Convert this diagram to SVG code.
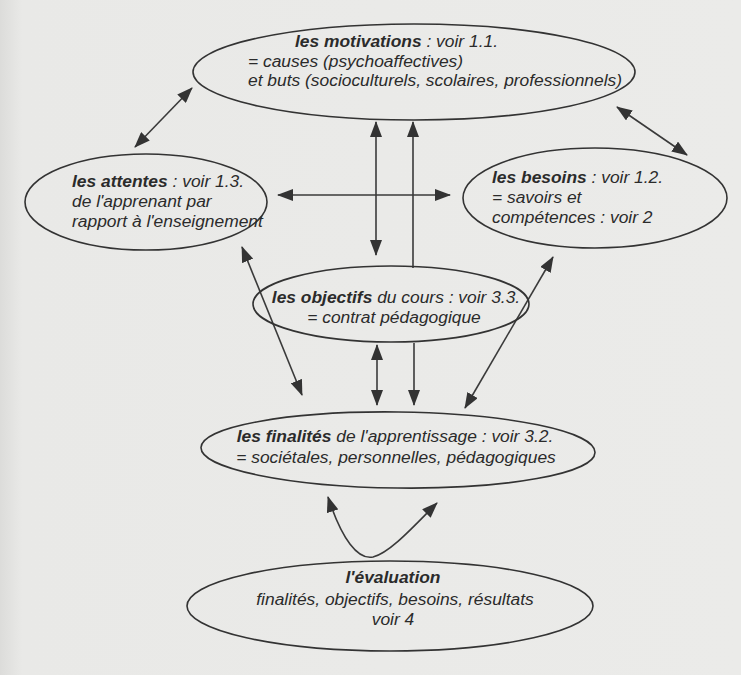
<svg xmlns="http://www.w3.org/2000/svg" width="741" height="675" viewBox="0 0 741 675">
<defs>
<marker id="ah" viewBox="0 0 16 12" refX="15" refY="6" markerWidth="16" markerHeight="12" markerUnits="userSpaceOnUse" orient="auto-start-reverse">
<path d="M0,0 L16,6 L0,12 Z" fill="#333"/>
</marker>
<linearGradient id="bg" x1="0" y1="0" x2="1" y2="0">
<stop offset="0" stop-color="#dcdcda"/>
<stop offset="0.03" stop-color="#e9e9e7"/>
<stop offset="1" stop-color="#ebebe9"/>
</linearGradient>
</defs>
<style>
.node ellipse{fill:none;stroke:#333;stroke-width:1.6}
text{font-family:"Liberation Sans",Arial,sans-serif;font-style:italic;font-size:17.4px;fill:#2b2b2b}
.b{font-weight:bold}
.c{text-anchor:middle}
#connectors path,#connectors line{stroke:#3a3a3a;stroke-width:1.6;fill:none}
.d{marker-start:url(#ah);marker-end:url(#ah)}
.e{marker-end:url(#ah)}
</style>
<rect x="0" y="0" width="741" height="675" fill="url(#bg)"/>
<g id="connectors">
<line class="d" x1="192" y1="88" x2="135" y2="147"/>
<line class="d" x1="617" y1="107" x2="687" y2="155"/>
<line class="d" x1="376" y1="122" x2="376" y2="255"/>
<line class="e" x1="413" y1="268" x2="413" y2="122"/>
<line class="d" x1="278" y1="195" x2="450" y2="195"/>
<line class="d" x1="242" y1="247" x2="302" y2="395"/>
<line class="d" x1="553" y1="257" x2="465" y2="408"/>
<line class="d" x1="377" y1="345" x2="377" y2="405"/>
<line class="e" x1="414" y1="343" x2="414" y2="405"/>
<path class="d" d="M328,497 C342,540 358,560 373,557 C390,553 415,525 437,503"/>
</g>
<g id="motivations" class="node">
<ellipse cx="414" cy="72" rx="221" ry="48"/>
<text x="295" y="47"><tspan class="b">les motivations</tspan> : voir 1.1.</text>
<text x="248" y="67">= causes (psychoaffectives)</text>
<text x="248" y="86">et buts (socioculturels, scolaires, professionnels)</text>
</g>
<g id="attentes" class="node">
<ellipse cx="146" cy="202" rx="121" ry="48"/>
<text x="72" y="187"><tspan class="b">les attentes</tspan> : voir 1.3.</text>
<text x="72" y="207">de l'apprenant par</text>
<text x="72" y="227">rapport à l'enseignement</text>
</g>
<g id="besoins" class="node">
<ellipse cx="595" cy="198" rx="132" ry="50"/>
<text x="492" y="183"><tspan class="b">les besoins</tspan> : voir 1.2.</text>
<text x="492" y="203">= savoirs et</text>
<text x="492" y="223">compétences : voir 2</text>
</g>
<g id="objectifs" class="node">
<ellipse cx="391" cy="304" rx="138" ry="38"/>
<text class="c" x="396" y="303"><tspan class="b">les objectifs</tspan> du cours : voir 3.3.</text>
<text class="c" x="394" y="323">= contrat pédagogique</text>
</g>
<g id="finalites" class="node">
<ellipse cx="398" cy="450" rx="197" ry="38" transform="rotate(0.7 398 450)"/>
<text class="c" x="395" y="442"><tspan class="b">les finalités</tspan> de l'apprentissage : voir 3.2.</text>
<text class="c" x="396" y="463">= sociétales, personnelles, pédagogiques</text>
</g>
<g id="evaluation" class="node">
<ellipse cx="390" cy="606" rx="203" ry="45"/>
<text class="c b" x="393" y="583">l'évaluation</text>
<text class="c" x="395" y="605">finalités, objectifs, besoins, résultats</text>
<text class="c" x="393" y="625">voir 4</text>
</g>
</svg>
